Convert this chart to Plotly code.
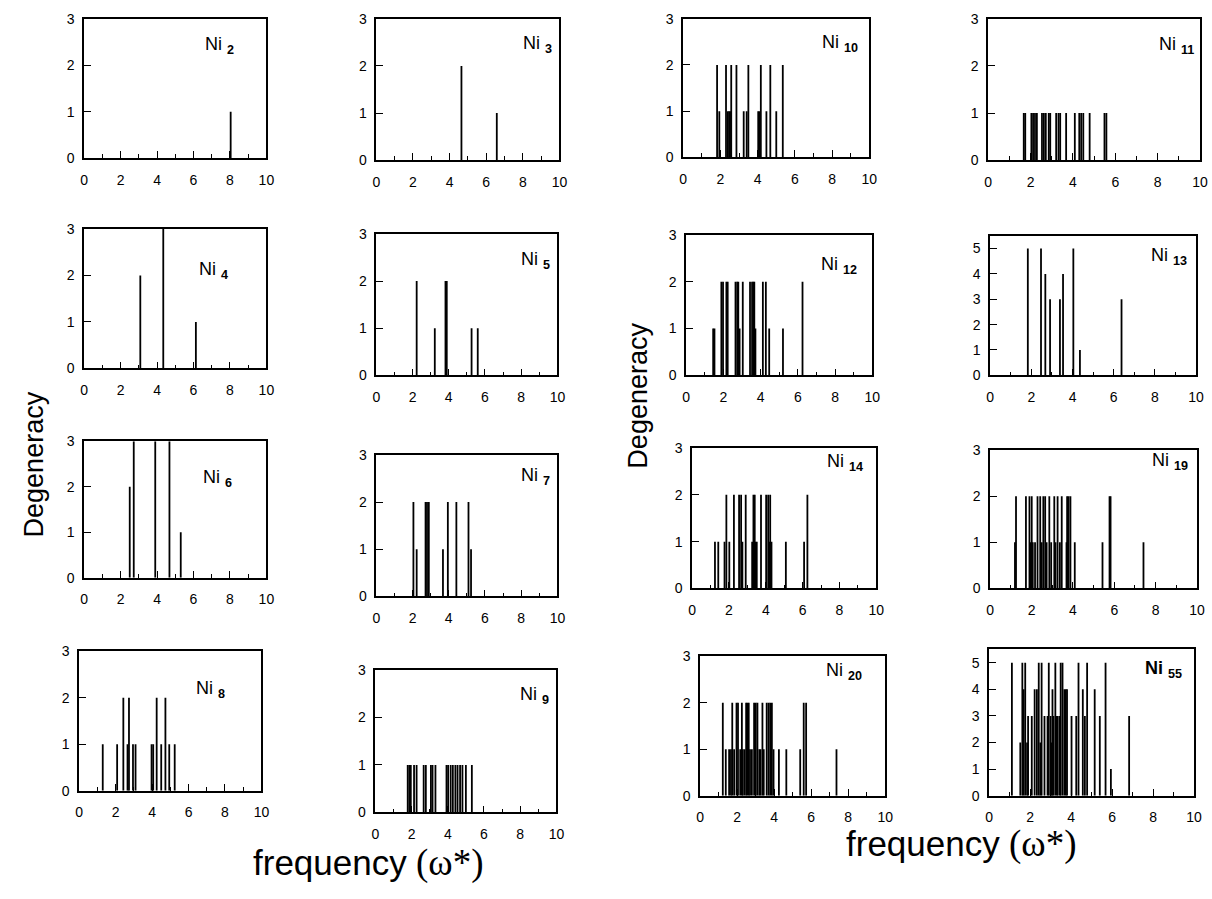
import plotly.graph_objects as go

W, H = 1212, 899

# ---------------- data (frequency in omega*, degeneracy) ----------------
ni2_freq = [8.04]
ni2_deg = [1]
ni3_freq = [4.65, 6.58]
ni3_deg = [2, 1]
ni4_freq = [3.08, 4.34, 6.13]
ni4_deg = [2, 3, 1]
ni5_freq = [2.23, 3.23, 3.82, 3.89, 5.26, 5.6]
ni5_deg = [2, 1, 2, 2, 1, 1]
ni6_freq = [2.5, 2.72, 3.9, 4.68, 5.3]
ni6_deg = [2, 3, 3, 3, 1]
ni7_freq = [2.05, 2.23, 2.72, 2.8, 2.9, 3.68, 3.95, 4.42, 5.09, 5.23]
ni7_deg = [2, 1, 2, 2, 2, 1, 2, 2, 2, 1]
ni8_freq = [1.29, 2.08, 2.42, 2.65, 2.73, 2.95, 3.09, 3.97, 4.06, 4.25, 4.5, 4.73, 4.94, 5.24]
ni8_deg = [1, 1, 2, 1, 2, 1, 1, 1, 1, 2, 1, 2, 1, 1]
ni9_freq = [1.79, 1.88, 1.96, 2.14, 2.28, 2.67, 2.79, 3.07, 3.16, 3.32, 3.93, 4.02,
            4.16, 4.28, 4.42, 4.54, 4.68, 4.81, 5.0, 5.33]
ni9_deg = [1] * 20
ni10_freq = [1.82, 1.94, 2.3, 2.4, 2.47, 2.54, 2.58, 2.86, 3.25, 3.41, 3.5, 4.03,
             4.1, 4.17, 4.47, 4.68, 5.0, 5.35]
ni10_deg = [2, 1, 2, 1, 1, 1, 2, 2, 1, 1, 2, 1, 1, 2, 1, 2, 1, 2]
ni11_freq = [1.68, 1.75, 2.04, 2.12, 2.21, 2.3, 2.54, 2.63, 2.72, 2.86, 2.93, 3.21,
             3.32, 3.4, 3.68, 4.09, 4.3, 4.39, 4.49, 4.79, 5.49, 5.58]
ni11_deg = [1] * 22
ni12_freq = [1.45, 1.52, 1.89, 1.98, 2.16, 2.23, 2.65, 2.74, 2.8, 2.87, 3.04, 3.43,
             3.54, 3.61, 3.66, 3.72, 4.12, 4.28, 4.46, 5.2, 6.25]
ni12_deg = [1, 1, 2, 2, 2, 2, 2, 2, 2, 1, 2, 2, 2, 2, 2, 1, 2, 2, 1, 1, 2]
ni13_freq = [1.83, 2.47, 2.68, 2.91, 3.39, 3.54, 4.04, 4.36, 6.38]
ni13_deg = [5, 5, 4, 3, 3, 4, 5, 1, 3]
ni14_freq = [1.24, 1.42, 1.76, 1.86, 2.02, 2.27, 2.55, 2.66, 2.73, 2.91, 3.26, 3.33,
             3.35, 3.4, 3.44, 3.51, 3.74, 4.02, 4.13, 4.2, 4.24, 4.31, 5.09, 6.08, 6.26]
ni14_deg = [1, 1, 1, 2, 1, 2, 2, 2, 1, 2, 1, 2, 1, 2, 1, 1, 2, 2, 2, 1, 2, 1, 1, 1, 2]
ni19_freq = [1.2, 1.25, 1.73, 1.9, 1.94, 2.01, 2.06, 2.17, 2.29, 2.42, 2.49, 2.57,
             2.66, 2.73, 2.86, 2.95, 3.1, 3.16, 3.26, 3.37, 3.46, 3.69, 3.72, 3.79,
             3.88, 4.09, 5.43, 5.77, 5.82, 7.41]
ni19_deg = [1, 2, 2, 2, 1, 2, 1, 1, 2, 2, 1, 2, 2, 1, 2, 1, 2, 1, 2, 1, 2, 1, 2, 2,
            2, 1, 1, 2, 2, 1]
ni20_freq = [1.23, 1.39, 1.57, 1.67, 1.74, 1.84, 1.97, 2.05, 2.17, 2.26, 2.31, 2.4,
             2.49, 2.56, 2.63, 2.7, 2.8, 2.92, 3.01, 3.1, 3.2, 3.27, 3.37, 3.44, 3.6,
             3.7, 3.79, 3.88, 3.97, 4.26, 4.66, 5.41, 5.6, 5.73, 7.37]
ni20_deg = [2, 1, 1, 1, 2, 1, 2, 2, 1, 2, 1, 1, 2, 2, 2, 1, 1, 2, 2, 2, 1, 1, 2, 1,
            2, 2, 2, 2, 1, 1, 1, 1, 2, 2, 1]
ni55_freq = [1.11, 1.52, 1.62, 1.68, 1.76, 1.85, 1.9, 2.08, 2.22, 2.33, 2.42, 2.5,
             2.56, 2.7, 2.85, 2.91, 3.0, 3.05, 3.09, 3.14, 3.23, 3.3, 3.35, 3.45, 3.49,
             3.58, 3.67, 3.74, 3.8, 4.02, 4.25, 4.36, 4.57, 4.67, 4.78, 5.15, 5.4,
             5.68, 5.94, 6.83]
ni55_deg = [5, 2, 5, 4, 5, 2, 3, 3, 4, 4, 5, 2, 5, 3, 3, 5, 3, 2, 4, 3, 5, 3, 3, 3, 5,
            5, 4, 4, 4, 3, 3, 5, 4, 3, 5, 4, 3, 5, 1, 3]

labels = ["2", "3", "4", "5", "6", "7", "8", "9", "10", "11", "12", "13", "14", "19", "20", "55"]
freqs = [ni2_freq, ni3_freq, ni4_freq, ni5_freq, ni6_freq, ni7_freq, ni8_freq, ni9_freq,
         ni10_freq, ni11_freq, ni12_freq, ni13_freq, ni14_freq, ni19_freq, ni20_freq, ni55_freq]
degs = [ni2_deg, ni3_deg, ni4_deg, ni5_deg, ni6_deg, ni7_deg, ni8_deg, ni9_deg,
        ni10_deg, ni11_deg, ni12_deg, ni13_deg, ni14_deg, ni19_deg, ni20_deg, ni55_deg]
x_ticks = [0, 2, 4, 6, 8, 10]

# ---------------- layout: frame boxes in pixels (left, top, right, bottom) ----------------
boxes = {
    "2": (81, 11, 265, 153), "4": (81, 225, 265, 367), "6": (81, 441, 265, 580), "8": (76, 655, 260, 797),
    "3": (376, 11, 561, 155), "5": (376, 230, 559, 374), "7": (376, 455, 559, 599), "9": (375, 674, 558, 819),
    "10": (686, 11, 874, 152), "12": (689, 231, 877, 374), "14": (695, 448, 881, 591), "20": (703, 660, 890, 802),
    "11": (994, 11, 1208, 155), "13": (996, 232, 1204, 374), "19": (996, 450, 1205, 591), "55": (995, 653, 1202, 802),
}
# panel label centre, relative to the frame (x, y)
label_pos = {
    "2": (0.74, 0.81), "3": (0.88, 0.82), "4": (0.71, 0.70), "5": (0.88, 0.81),
    "6": (0.73, 0.73), "7": (0.88, 0.85), "8": (0.72, 0.73), "9": (0.88, 0.82),
    "10": (0.84, 0.82), "11": (0.89, 0.81), "12": (0.82, 0.78), "13": (0.87, 0.85),
    "14": (0.83, 0.90), "19": (0.87, 0.92), "20": (0.78, 0.89), "55": (0.85, 0.86),
}
tall = {"13", "55"}

FONT = "Liberation Sans, Arial, Helvetica, sans-serif"
fig = go.Figure()
annotations = []

for i, (lab, fr, dg) in enumerate(zip(labels, freqs, degs), start=1):
    xs, ys = [], []
    for f, d in zip(fr, dg):
        xs += [f, f, None]
        ys += [0, d, None]
    sx = "" if i == 1 else str(i)
    fig.add_trace(go.Scatter(x=xs, y=ys, mode="lines", line=dict(color="black", width=1.8),
                             xaxis="x" + sx, yaxis="y" + sx, showlegend=False, hoverinfo="skip"))
    l, t, r, b = boxes[lab]
    ymax = 5.5 if lab in tall else 3
    yt = list(range(0, 6)) if lab in tall else [0, 1, 2, 3]
    fig.layout["xaxis" + sx] = dict(
        domain=[l / W, r / W], anchor="y" + sx, range=[0, 10],
        tickmode="array", tickvals=x_ticks, ticks="inside", ticklen=7, tickwidth=1.2, tickcolor="black",
        minor=dict(tickmode="array", tickvals=[1, 3, 5, 7, 9], ticks="inside", ticklen=4,
                   tickwidth=1.2, tickcolor="black", showgrid=False),
        showline=True, linecolor="black", linewidth=1.6, mirror=True,
        showgrid=False, zeroline=False, ticklabelstandoff=8,
        tickfont=dict(family=FONT, size=14, color="black"))
    fig.layout["yaxis" + sx] = dict(
        domain=[1 - b / H, 1 - t / H], anchor="x" + sx, range=[0, ymax],
        tickmode="array", tickvals=yt, ticks="inside", ticklen=7, tickwidth=1.2, tickcolor="black",
        showline=True, linecolor="black", linewidth=1.6, mirror=True,
        showgrid=False, zeroline=False, ticklabelstandoff=5,
        tickfont=dict(family=FONT, size=14, color="black"))
    bold = lab == "55"
    txt = ("<b>Ni</b>" if bold else "Ni") + " <sub><b>" + lab + "</b></sub>"
    lx, ly = label_pos[lab]
    annotations.append(dict(
        text=txt, xref="x" + sx + " domain", yref="y" + sx + " domain",
        x=lx, y=ly, xanchor="center", yanchor="middle", showarrow=False,
        font=dict(family=FONT, size=18, color="black")))

SERIF = "Liberation Serif, Times New Roman, serif"
freq_text = 'frequency<span style="font-family:' + SERIF + ';font-size:37px"> (ω*)</span>'
annotations += [
    dict(text="Degeneracy", x=30 / W, y=1 - 465 / H, xref="paper", yref="paper", textangle=-90,
         xanchor="center", yanchor="middle",
         showarrow=False, font=dict(family=FONT, size=27, color="black")),
    dict(text="Degeneracy", x=640 / W, y=1 - 395 / H, xref="paper", yref="paper", textangle=-90,
         xanchor="center", yanchor="middle",
         showarrow=False, font=dict(family=FONT, size=27, color="black")),
    dict(text=freq_text, x=368 / W, y=1 - 870 / H, xref="paper", yref="paper",
         xanchor="center", yanchor="middle",
         showarrow=False, font=dict(family=FONT, size=35, color="black")),
    dict(text=freq_text, x=967 / W, y=1 - 851 / H, xref="paper", yref="paper",
         xanchor="center", yanchor="middle",
         showarrow=False, font=dict(family=FONT, size=35, color="black")),
]

fig.update_layout(width=W, height=H, margin=dict(l=0, r=0, t=0, b=0),
                  paper_bgcolor="white", plot_bgcolor="white", showlegend=False,
                  annotations=annotations)

fig.write_html("out.html", config={"displayModeBar": False},
               post_script="document.body.style.margin='0';document.body.style.overflow='hidden';")
